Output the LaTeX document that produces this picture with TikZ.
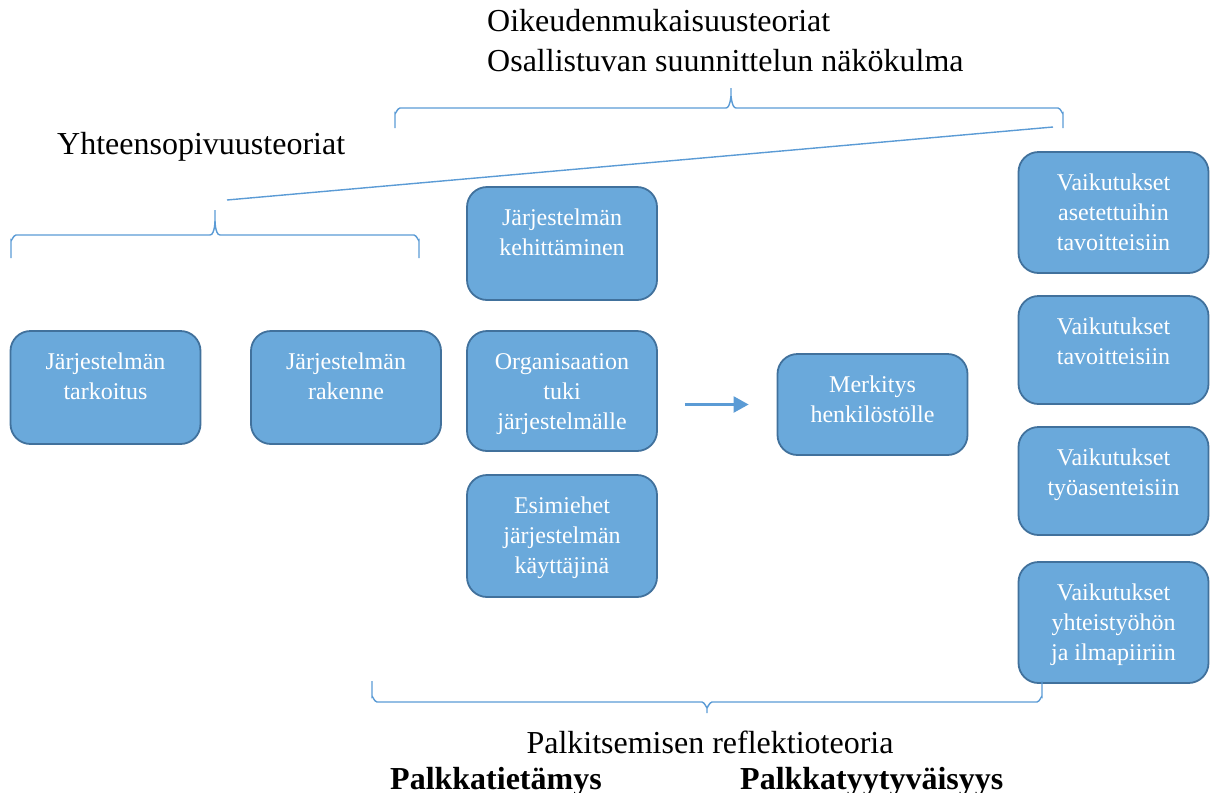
\documentclass[tikz,border=0pt]{standalone}
\usepackage{fontspec}
\setmainfont{Liberation Serif}
\usepackage{tikz}
\usetikzlibrary{arrows.meta,positioning,calc}
\definecolor{boxfill}{RGB}{106,169,219}
\definecolor{boxline}{RGB}{65,113,156}
\definecolor{brline}{RGB}{91,155,213}
\tikzset{
  box/.style  = {rectangle, rounded corners=20pt, draw=boxline, line width=1.8pt, fill=boxfill,
                 text=white, align=center, font=\fontsize{24}{30}\selectfont,
                 minimum width=190pt, inner xsep=2pt, inner ysep=0pt},
  boxtwo/.style   = {box, text height=68pt},
  boxthree/.style = {box, text height=98pt},
  brc/.style  = {draw=brline, line width=1.4pt},
  arr/.style  = {-{Triangle[length=15pt,width=16pt]}, draw=brline, line width=2.4pt},
  lbl/.style  = {anchor=base west, inner sep=0pt, font=\fontsize{32}{40}\selectfont},
}

\begin{document}
\begin{tikzpicture}[x=1pt, y=-1pt]
  \useasboundingbox (0,0) rectangle (1211,793);
  % vasen sarake
  \node[boxtwo, text depth=45pt] (tarkoitus) at (105.5,387.5) {Järjestelmän\\ tarkoitus};
  \node[boxtwo, text depth=45pt] (rakenne) at (346,387.5) {Järjestelmän\\ rakenne};
  % keskisarake
  \node[boxtwo, text depth=45pt] (kehitys) at (562,243.5) {Järjestelmän\\ kehittäminen};
  \node[boxthree, text depth=22pt] (tuki) at (562,391) {Organisaation\\ tuki\\ järjestelmälle};
  \node[boxthree, text depth=24pt] (esimiehet) at (562,536) {Esimiehet\\ järjestelmän\\ käyttäjinä};
  \node[boxtwo, text depth=33pt] (merkitys) at (872.5,404.5) {Merkitys\\ henkilöstölle};
  % vaikutukset
  \node[boxthree, text depth=23pt] (vtav) at (1113.5,212.5) {Vaikutukset\\ asetettuihin\\ tavoitteisiin};
  \node[boxtwo, text depth=40pt] (vtav2) at (1113.5,350) {Vaikutukset\\ tavoitteisiin};
  \node[boxtwo, text depth=40pt] (vasen) at (1113.5,481) {Vaikutukset\\ työasenteisiin};
  \node[boxthree, text depth=23pt] (vyht) at (1113.5,622.5) {Vaikutukset\\ yhteistyöhön\\ ja ilmapiiriin};
  \draw[arr, shorten <=27pt, shorten >=28pt] (tuki.east |- merkitys.west) -- (merkitys.west);

  % aaltosulkeet
  \draw[brc] (395,128) -- (395,113) to[out=-90,in=180] (400,108) -- (726,108)
             to[out=0,in=90] (731,97) -- (731,88);
  \draw[brc] (1063,128) -- (1063,113) to[out=-90,in=0] (1058,108) -- (736,108)
             to[out=180,in=90] (731,97);
  \draw[brc] (11,258) -- (11,240) to[out=-90,in=180] (16,235) -- (210,235)
             to[out=0,in=90] (215,222) -- (215,210);
  \draw[brc] (419,258) -- (419,240) to[out=-90,in=0] (414,235) -- (220,235)
             to[out=180,in=90] (215,222);
  \draw[brc] (372,681) -- (372,697) to[out=90,in=180] (377,702) -- (702,702)
             to[out=0,in=-90] (707,707) -- (707,713);
  \draw[brc] (1042,681) -- (1042,697) to[out=90,in=0] (1037,702) -- (712,702)
             to[out=180,in=-90] (707,707);
  \coordinate (ytip) at (227,200);
  \coordinate (otip) at (1053,127);
  \draw[brc] (ytip) -- (otip);

  % teoriat
  \node[lbl] (oik) at (487,31) {Oikeudenmukaisuusteoriat};
  \node[lbl] (osa) at (487,71) {Osallistuvan suunnittelun näkökulma};
  \node[lbl] (yht) at (57,154) {Yhteensopivuusteoriat};
  \node[lbl, anchor=base] (refl) at (710,753) {Palkitsemisen reflektioteoria};
  \node[lbl, font=\fontsize{32}{40}\selectfont\bfseries] (tiet) at (390,789) {Palkkatietämys};
  \node[lbl, font=\fontsize{32}{40}\selectfont\bfseries] (tyyt) at (740,789) {Palkkatyytyväisyys};
\end{tikzpicture}
\end{document}
